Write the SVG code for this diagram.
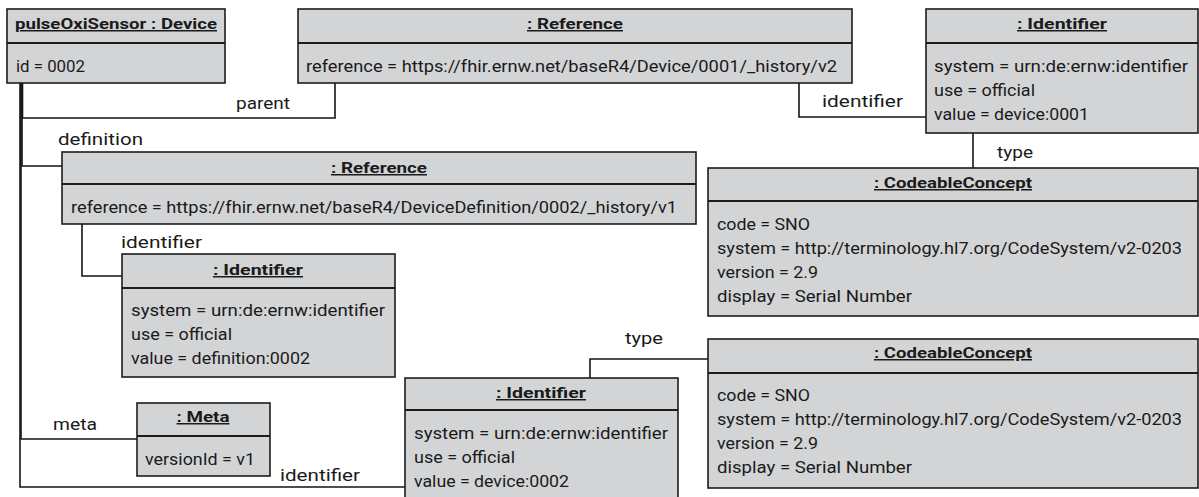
<svg xmlns="http://www.w3.org/2000/svg" width="1199" height="497" viewBox="0 0 1199 497">
  <style>
    .box { fill: #d3d4d6; stroke: #1c1c1c; stroke-width: 1.6; }
    .sep { stroke: #1c1c1c; stroke-width: 2; }
    .title { font-family: Roboto, "Liberation Sans", sans-serif; font-size: 15px; font-weight: bold; fill: #1a1a1a; text-anchor: middle; text-decoration: underline; }
    .attr { font-family: Roboto, "Liberation Sans", sans-serif; font-size: 16px; fill: #1a1a1a; }
    .lbl { font-family: Roboto, "Liberation Sans", sans-serif; font-size: 17px; fill: #1a1a1a; }
    .conn { fill: none; stroke: #151515; stroke-width: 1.6; }
  </style>

  <!-- links between the objects -->
  <g id="connectors">
    <path class="conn" d="M22.5,83 V118 H335 V83"/>
    <path class="conn" d="M799,83 V117 H926"/>
    <path class="conn" d="M973,133 V168"/>
    <path class="conn" d="M22,83 V166 H62"/>
    <path class="conn" d="M82,224 V276 H122"/>
    <path class="conn" d="M21,83 V439 H137"/>
    <path class="conn" d="M20,83 V487 H405"/>
    <path class="conn" d="M590,378 V359 H708"/>
    <text class="lbl" x="236" y="109" textLength="54" lengthAdjust="spacingAndGlyphs">parent</text>
    <text class="lbl" x="822" y="107" textLength="81" lengthAdjust="spacingAndGlyphs">identifier</text>
    <text class="lbl" x="997" y="158" textLength="36" lengthAdjust="spacingAndGlyphs">type</text>
    <text class="lbl" x="58" y="145" textLength="85" lengthAdjust="spacingAndGlyphs">definition</text>
    <text class="lbl" x="121" y="248" textLength="81" lengthAdjust="spacingAndGlyphs">identifier</text>
    <text class="lbl" x="53" y="430" textLength="44" lengthAdjust="spacingAndGlyphs">meta</text>
    <text class="lbl" x="280" y="481" textLength="80" lengthAdjust="spacingAndGlyphs">identifier</text>
    <text class="lbl" x="625" y="344" textLength="38" lengthAdjust="spacingAndGlyphs">type</text>
  </g>

  <!-- pulseOxiSensor : Device -->
  <g id="device">
    <rect class="box" x="7" y="9" width="218" height="74"/>
    <line class="sep" x1="7" y1="43" x2="225" y2="43"/>
    <text class="title" x="116" y="29" textLength="202" lengthAdjust="spacingAndGlyphs">pulseOxiSensor : Device</text>
    <text class="attr" x="16" y="72" textLength="69" lengthAdjust="spacingAndGlyphs">id = 0002</text>
  </g>

  <!-- parent reference -->
  <g id="reference-parent">
    <rect class="box" x="298" y="9" width="554" height="74"/>
    <line class="sep" x1="298" y1="43" x2="852" y2="43"/>
    <text class="title" x="575" y="29" textLength="96" lengthAdjust="spacingAndGlyphs">: Reference</text>
    <text class="attr" x="306" y="72" textLength="531" lengthAdjust="spacingAndGlyphs">reference = https://fhir.ernw.net/baseR4/Device/0001/_history/v2</text>
  </g>

  <!-- identifier of the parent device -->
  <g id="identifier-parent">
    <rect class="box" x="926" y="9" width="272" height="124"/>
    <line class="sep" x1="926" y1="43" x2="1198" y2="43"/>
    <text class="title" x="1062" y="29" textLength="90" lengthAdjust="spacingAndGlyphs">: Identifier</text>
    <text class="attr" x="934" y="72" textLength="254" lengthAdjust="spacingAndGlyphs">system = urn:de:ernw:identifier</text>
    <text class="attr" x="934" y="96" textLength="101" lengthAdjust="spacingAndGlyphs">use = official</text>
    <text class="attr" x="934" y="120" textLength="155" lengthAdjust="spacingAndGlyphs">value = device:0001</text>
  </g>

  <!-- type of the parent identifier -->
  <g id="codeable-concept-parent">
    <rect class="box" x="708" y="168" width="490" height="148"/>
    <line class="sep" x1="708" y1="201" x2="1198" y2="201"/>
    <text class="title" x="953" y="188" textLength="158" lengthAdjust="spacingAndGlyphs">: CodeableConcept</text>
    <text class="attr" x="717" y="230" textLength="93" lengthAdjust="spacingAndGlyphs">code = SNO</text>
    <text class="attr" x="717" y="254" textLength="465" lengthAdjust="spacingAndGlyphs">system = http://terminology.hl7.org/CodeSystem/v2-0203</text>
    <text class="attr" x="717" y="278" textLength="101" lengthAdjust="spacingAndGlyphs">version = 2.9</text>
    <text class="attr" x="717" y="302" textLength="195" lengthAdjust="spacingAndGlyphs">display = Serial Number</text>
  </g>

  <!-- device definition reference -->
  <g id="reference-definition">
    <rect class="box" x="62" y="152" width="634" height="72"/>
    <line class="sep" x1="62" y1="184" x2="696" y2="184"/>
    <text class="title" x="379" y="173" textLength="96" lengthAdjust="spacingAndGlyphs">: Reference</text>
    <text class="attr" x="71" y="213" textLength="606" lengthAdjust="spacingAndGlyphs">reference = https://fhir.ernw.net/baseR4/DeviceDefinition/0002/_history/v1</text>
  </g>

  <!-- identifier of the definition -->
  <g id="identifier-definition">
    <rect class="box" x="122" y="254" width="273" height="123"/>
    <line class="sep" x1="122" y1="288" x2="395" y2="288"/>
    <text class="title" x="258" y="275" textLength="90" lengthAdjust="spacingAndGlyphs">: Identifier</text>
    <text class="attr" x="131" y="316" textLength="254" lengthAdjust="spacingAndGlyphs">system = urn:de:ernw:identifier</text>
    <text class="attr" x="131" y="340" textLength="101" lengthAdjust="spacingAndGlyphs">use = official</text>
    <text class="attr" x="131" y="364" textLength="179" lengthAdjust="spacingAndGlyphs">value = definition:0002</text>
  </g>

  <!-- meta -->
  <g id="meta">
    <rect class="box" x="137" y="403" width="133" height="73"/>
    <line class="sep" x1="137" y1="436" x2="270" y2="436"/>
    <text class="title" x="203" y="422" textLength="53" lengthAdjust="spacingAndGlyphs">: Meta</text>
    <text class="attr" x="145" y="465" textLength="110" lengthAdjust="spacingAndGlyphs">versionId = v1</text>
  </g>

  <!-- identifier of the device -->
  <g id="identifier-device">
    <rect class="box" x="405" y="378" width="273" height="126"/>
    <line class="sep" x1="405" y1="410" x2="678" y2="410"/>
    <text class="title" x="541" y="398" textLength="90" lengthAdjust="spacingAndGlyphs">: Identifier</text>
    <text class="attr" x="414" y="439" textLength="254" lengthAdjust="spacingAndGlyphs">system = urn:de:ernw:identifier</text>
    <text class="attr" x="414" y="463" textLength="101" lengthAdjust="spacingAndGlyphs">use = official</text>
    <text class="attr" x="414" y="487" textLength="155" lengthAdjust="spacingAndGlyphs">value = device:0002</text>
  </g>

  <!-- type of the device identifier -->
  <g id="codeable-concept-device">
    <rect class="box" x="708" y="339" width="490" height="149"/>
    <line class="sep" x1="708" y1="373" x2="1198" y2="373"/>
    <text class="title" x="953" y="358" textLength="158" lengthAdjust="spacingAndGlyphs">: CodeableConcept</text>
    <text class="attr" x="717" y="401" textLength="93" lengthAdjust="spacingAndGlyphs">code = SNO</text>
    <text class="attr" x="717" y="425" textLength="465" lengthAdjust="spacingAndGlyphs">system = http://terminology.hl7.org/CodeSystem/v2-0203</text>
    <text class="attr" x="717" y="449" textLength="101" lengthAdjust="spacingAndGlyphs">version = 2.9</text>
    <text class="attr" x="717" y="473" textLength="195" lengthAdjust="spacingAndGlyphs">display = Serial Number</text>
  </g>
</svg>
